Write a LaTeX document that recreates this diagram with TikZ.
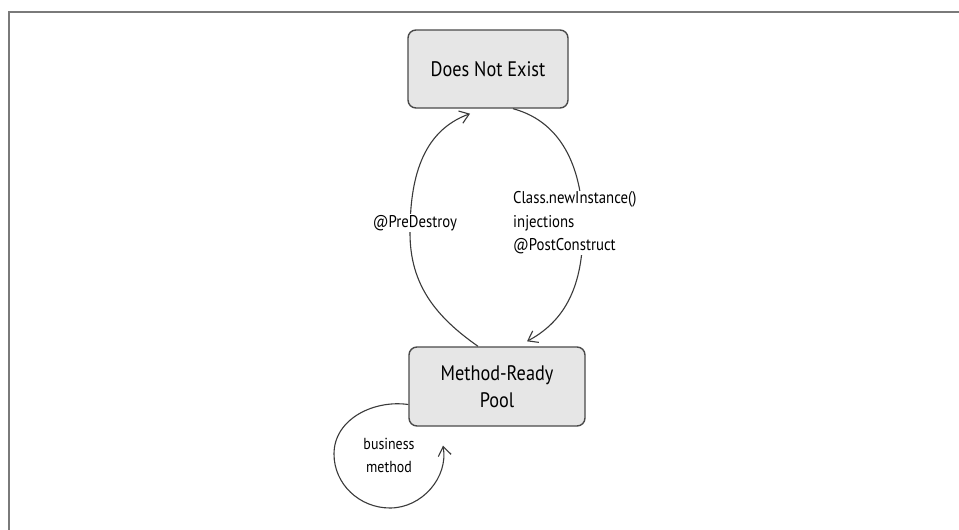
\documentclass[tikz,border=0pt]{standalone}
\usepackage{fontspec}
\setmainfont{PT Sans}[FakeStretch=0.87]
\usetikzlibrary{arrows.meta}
\definecolor{boxfill}{HTML}{E6E6E6}
\definecolor{boxline}{HTML}{4A4A4A}
\definecolor{framegray}{HTML}{7A7A7A}
\definecolor{arcgray}{HTML}{3A3A3A}
\tikzset{
  state/.style={draw=boxline, line width=1.4pt, fill=boxfill, rounded corners=8pt,
    align=center, font=\fontsize{21}{27}\selectfont, inner sep=0pt},
  trans/.style={draw=arcgray, line width=1.1pt,
    -{Straight Barb[length=9pt,width=13pt,line width=1.1pt]}},
  lbl/.style={fill=white, inner sep=1pt, font=\fontsize{17}{23.5}\selectfont},
}
\begin{document}
\begin{tikzpicture}[x=1pt,y=1pt]
  \useasboundingbox (0,0) rectangle (959,-530);
  \fill[white] (0,0) rectangle (959,-530);
  \begin{scope}
    \clip (0,0) rectangle (959,-530);
    \draw[framegray, line width=2.2pt] (9,-540) -- (9,-12) -- (975,-12);
  \end{scope}

  % lifecycle states
  \node[state, minimum width=160pt, minimum height=78pt] (dne) at (488,-69) {Does Not Exist};
  \node[state, minimum width=176pt, minimum height=79pt] (pool) at (497,-386.5) {Method-Ready\\Pool};

  % transitions
  \draw[trans] ([xshift=-19pt]pool.north) to[out=145,in=-90] (410,-233)
     to[out=90,in=200] ([shift={(-18,-5)}]dne.south);
  \draw[trans] ([xshift=25pt]dne.south) to[out=-15,in=90] (583,-228)
     to[out=-90,in=28] ([shift={(30,5)}]pool.north);
  \draw[trans] ([yshift=-18pt]pool.west) to[out=172,in=90] (334,-454)
     to[out=-90,in=180] (390,-508) to[out=0,in=-80] ([shift={(-54,-19)}]pool.south);

  % transition labels
  \node[lbl] (pd) at (415,-223) {@PreDestroy};
  \node[lbl, align=left, anchor=west] (pc) at (512,-223)
     {Class.newInstance()\\injections\\@PostConstruct};
  \node[align=center, font=\fontsize{16}{23}\selectfont] (bm) at (389,-455) {business\\method};
\end{tikzpicture}
\end{document}
